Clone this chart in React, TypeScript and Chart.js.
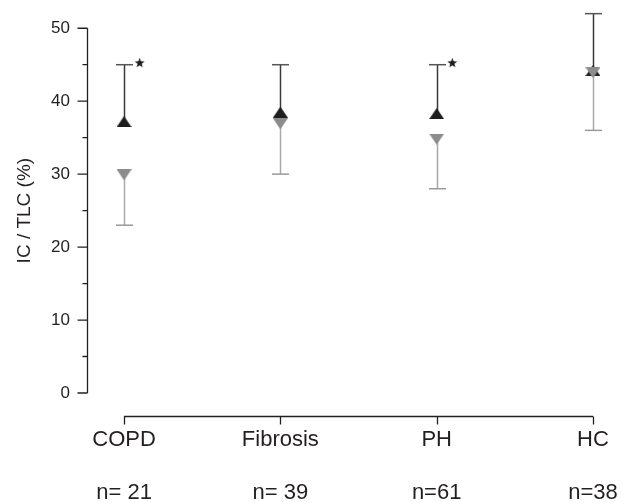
import React, { useEffect, useRef } from 'react';
import { Chart, registerables } from 'chart.js';

Chart.register(...registerables);

const categories = ['COPD', 'Fibrosis', 'PH', 'HC'];
const nLabels = ['n= 21', 'n= 39', 'n=61', 'n=38'];
const blackMeans = [37.2, 38.5, 38.3, 44.2];
const blackUpper = [45, 45, 45, 52];
const greyMeans = [29.9, 36.9, 34.8, 43.9];
const greyLower = [23, 30, 28, 36];
const significant = [true, false, true, false];
const yTickValues = [0, 10, 20, 30, 40, 50];

const FONT = "'Liberation Sans', Arial, Helvetica, sans-serif";
const INK = '#231f20';

function makeTriangle(up: boolean, color: string) {
  const w = 15, h = 11;
  const c = document.createElement('canvas');
  c.width = w; c.height = h;
  const ctx = c.getContext('2d')!;
  ctx.fillStyle = color;
  ctx.beginPath();
  if (up) { ctx.moveTo(w / 2, 0); ctx.lineTo(w, h); ctx.lineTo(0, h); }
  else { ctx.moveTo(0, 0); ctx.lineTo(w, 0); ctx.lineTo(w / 2, h); }
  ctx.closePath();
  ctx.fill();
  return c;
}

function makeStar(color: string) {
  const s = 11;
  const c = document.createElement('canvas');
  c.width = s; c.height = s;
  const ctx = c.getContext('2d')!;
  ctx.fillStyle = color;
  ctx.beginPath();
  const cx = s / 2, cy = s / 2 + 0.5, ro = 5.2, ri = 2.2;
  for (let k = 0; k < 10; k++) {
    const r = k % 2 === 0 ? ro : ri;
    const a = -Math.PI / 2 + (k * Math.PI) / 5;
    const px = cx + r * Math.cos(a), py = cy + r * Math.sin(a);
    if (k === 0) ctx.moveTo(px, py); else ctx.lineTo(px, py);
  }
  ctx.closePath();
  ctx.fill();
  return c;
}

function zeroPadding(s: any) {
  s.paddingLeft = 0;
  s.paddingRight = 0;
  s.paddingTop = 0;
  s.paddingBottom = 0;
}

export default function App() {
  const ref = useRef<HTMLCanvasElement | null>(null);

  useEffect(() => {
    if (!ref.current) return;
    const upTri = makeTriangle(true, '#1e1c1d');
    const downTri = makeTriangle(false, '#8c8c8c');
    const star = makeStar('#1e1c1d');

    const errorBars = {
      id: 'errorBars',
      beforeDatasetsDraw(chart: any) {
        const { ctx } = chart;
        const xs = chart.scales.x, ys = chart.scales.y;
        ctx.save();
        ctx.lineWidth = 1.5;
        categories.forEach((_, i) => {
          const px = Math.round(xs.getPixelForValue(i)) + 0.5;
          ctx.strokeStyle = '#3a3a3a';
          ctx.beginPath();
          ctx.moveTo(px, ys.getPixelForValue(blackMeans[i]));
          ctx.lineTo(px, ys.getPixelForValue(blackUpper[i]));
          ctx.stroke();
          ctx.strokeStyle = '#555555';
          ctx.beginPath();
          const yu = ys.getPixelForValue(blackUpper[i]);
          ctx.moveTo(px - 8.5, yu);
          ctx.lineTo(px + 8.5, yu);
          ctx.stroke();
          ctx.strokeStyle = '#a8a8a8';
          ctx.beginPath();
          ctx.moveTo(px, ys.getPixelForValue(greyMeans[i]));
          ctx.lineTo(px, ys.getPixelForValue(greyLower[i]));
          ctx.stroke();
          ctx.strokeStyle = '#9a9a9a';
          ctx.beginPath();
          const yl = ys.getPixelForValue(greyLower[i]);
          ctx.moveTo(px - 8.5, yl);
          ctx.lineTo(px + 8.5, yl);
          ctx.stroke();
        });
        ctx.restore();
      },
    };

    const axes = {
      id: 'customAxes',
      afterDraw(chart: any) {
        const { ctx } = chart;
        const xs = chart.scales.x, ys = chart.scales.y;
        const ax = Math.round(chart.chartArea.left) + 0.5;
        const y0 = ys.getPixelForValue(0);
        const y50 = ys.getPixelForValue(50);
        ctx.save();
        ctx.strokeStyle = INK;
        ctx.lineWidth = 1.3;
        ctx.beginPath();
        ctx.moveTo(ax, y50);
        ctx.lineTo(ax, y0);
        ys.ticks.forEach((t: any) => {
          const py = ys.getPixelForValue(t.value);
          const len = t.value % 10 === 0 ? 10 : 5;
          ctx.moveTo(ax - len, py);
          ctx.lineTo(ax, py);
        });
        ctx.stroke();

        const xAxisY = Math.round(y0 + 23) + 0.5;
        const x0 = xs.getPixelForValue(0);
        const x3 = xs.getPixelForValue(categories.length - 1);
        ctx.beginPath();
        ctx.moveTo(x0, xAxisY);
        ctx.lineTo(x3, xAxisY);
        categories.forEach((_, i) => {
          const px = Math.round(xs.getPixelForValue(i)) + 0.5;
          ctx.moveTo(px, xAxisY);
          ctx.lineTo(px, xAxisY + 8);
        });
        ctx.stroke();

        ctx.fillStyle = INK;
        ctx.font = `19px ${FONT}`;
        ctx.textAlign = 'center';
        ctx.textBaseline = 'middle';
        ctx.translate(25, (y0 + y50) / 2);
        ctx.rotate(-Math.PI / 2);
        ctx.fillText('IC / TLC (%)', 0, 0);
        ctx.restore();
      },
    };

    const chart = new Chart(ref.current, {
      type: 'scatter',
      data: {
        datasets: [
          {
            label: 'black',
            order: 2,
            data: categories.map((_, i) => ({ x: i, y: blackMeans[i] })),
            pointStyle: upTri as any,
            pointRadius: 8,
          },
          {
            label: 'grey',
            order: 1,
            data: categories.map((_, i) => ({ x: i, y: greyMeans[i] })),
            pointStyle: downTri as any,
            pointRadius: 8,
          },
          {
            label: 'sig',
            order: 0,
            data: categories
              .map((_, i) => ({ i }))
              .filter(({ i }) => significant[i])
              .map(({ i }) => ({ x: i + 0.1, y: blackUpper[i] + 0.3 })),
            pointStyle: star as any,
            pointRadius: 5,
          },
        ],
      },
      options: {
        animation: false,
        responsive: false,
        layout: { padding: { top: 10, right: 16, left: 0, bottom: 0 } },
        plugins: {
          legend: { display: false },
          tooltip: { enabled: false },
        },
        scales: {
          x: {
            type: 'linear',
            position: 'bottom',
            min: -0.237,
            max: 3.077,
            grid: { display: false, drawTicks: false },
            border: { display: false },
            afterBuildTicks: (s: any) => {
              s.ticks = categories.map((_, i) => ({ value: i }));
            },
            afterFit: (s: any) => { s.height = 109; zeroPadding(s); },
            ticks: {
              autoSkip: false,
              maxRotation: 0,
              padding: 34,
              color: INK,
              font: { family: FONT, size: 22 },
              callback: (v: any) => {
                const i = Number(v);
                return categories[i] !== undefined ? [categories[i], '', nLabels[i]] : '';
              },
            },
          },
          y: {
            type: 'linear',
            min: 0,
            max: 52.5,
            grid: { display: false, drawTicks: false },
            border: { display: false },
            afterBuildTicks: (s: any) => {
              const out: any[] = [];
              yTickValues.forEach((v, k) => {
                out.push({ value: v });
                if (k < yTickValues.length - 1) out.push({ value: v + 5 });
              });
              s.ticks = out;
            },
            afterFit: (s: any) => { s.width = 87; zeroPadding(s); },
            ticks: {
              autoSkip: false,
              padding: 17,
              color: INK,
              font: { family: FONT, size: 17 },
              callback: (v: any) => (Number(v) % 10 === 0 ? String(v) : ''),
            },
          },
        },
      },
      plugins: [errorBars, axes],
    });

    return () => chart.destroy();
  }, []);

  return (
    <div style={{ position: 'absolute', left: 0, top: 0, width: 621, height: 502, background: '#fff' }}>
      <canvas ref={ref} width={621} height={502} style={{ display: 'block' }} />
    </div>
  );
}
